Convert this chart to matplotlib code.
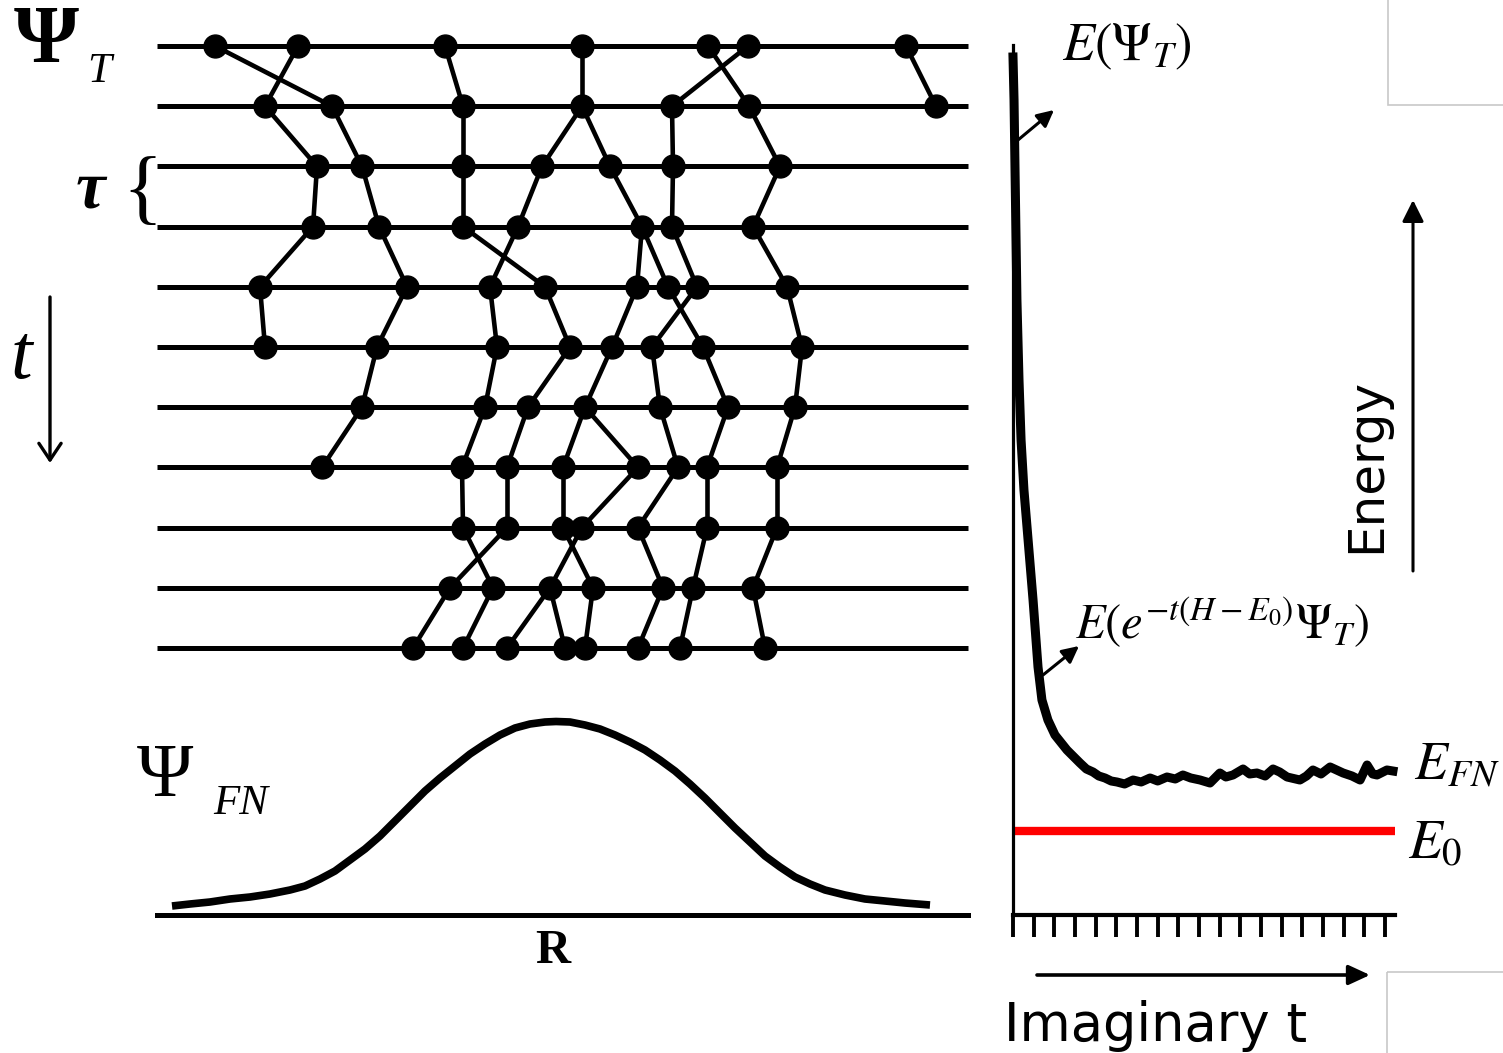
import matplotlib.pyplot as plt

plt.rcParams['mathtext.fontset'] = 'stix'

W, H = 1503, 1053

# walker positions R at each imaginary-time step (step 0 is the trial function)
walkers = [
    [215, 298, 445, 582, 708, 748, 906],
    [265, 332, 463, 582, 672, 749, 936],
    [317, 362, 463, 542, 610, 673, 780],
    [313, 379, 463, 518, 642, 672, 753],
    [260, 407, 490, 545, 637, 668, 697, 787],
    [265, 377, 497, 570, 612, 652, 703, 802],
    [362, 485, 528, 585, 660, 728, 795],
    [322, 462, 507, 563, 638, 678, 707, 777],
    [463, 507, 563, 582, 638, 707, 777],
    [450, 493, 550, 593, 663, 693, 753],
    [413, 463, 507, 565, 585, 638, 680, 765],
]
# which walker of the previous step each walker came from
parents = [
    None,
    [1, 0, 2, 3, 5, 4, 6],
    [0, 1, 2, 3, 3, 4, 5],
    [0, 1, 2, 3, 4, 5, 6],
    [0, 1, 3, 2, 4, 4, 5, 6],
    [0, 1, 2, 3, 4, 6, 5, 7],
    [1, 2, 3, 4, 5, 6, 7],
    [0, 1, 2, 3, 3, 4, 5, 6],
    [1, 2, 3, 4, 5, 6, 7],
    [1, 0, 3, 2, 4, 5, 6],
    [0, 1, 2, 2, 3, 4, 5, 6],
]

# fixed-node wavefunction sampled along R
psi_r = [172, 190, 210, 230, 250, 270, 290, 305, 320, 335, 350, 365, 380,
         395, 410, 425, 440, 455, 470, 485, 500, 515, 530, 545, 556, 570,
         585, 600, 615, 630, 645, 660, 675, 690, 705, 720, 735, 750, 765,
         780, 795, 810, 825, 845, 865, 885, 905, 930]
psi_amp = [9, 11, 13, 16, 18, 21, 25, 29, 36, 44, 55, 66, 79,
           94, 109, 124, 137, 149, 161, 171, 180, 187, 191, 193, 193.5, 193,
           190, 186, 180, 173, 165, 155, 144, 131, 117, 102, 87, 73, 59,
           48, 38, 31, 25, 20, 16, 14, 12, 10]

# energy estimate vs imaginary time
imag_t = [0.00, 0.05, 0.10, 0.19, 0.29, 0.39, 0.53, 0.73, 0.97, 1.21, 1.40,
          1.69, 2.03, 2.61, 3.24, 3.55, 3.87, 4.15, 4.45, 4.75, 5.03, 5.40,
          5.81, 6.20, 6.63, 7.00, 7.45, 7.85, 8.22, 8.60, 9.05, 9.53, 10.01,
          10.30, 10.64, 11.13, 11.45, 11.80, 12.20, 12.58, 12.90, 13.26,
          13.88, 14.20, 14.51, 14.90, 15.34, 15.97, 16.40, 16.79, 17.13,
          17.40, 17.61, 18.09, 18.38]
energy = [858, 815, 742, 615, 535, 475, 425, 375, 315, 248, 215,
          195, 180, 165, 152, 146, 143, 139, 137, 134, 133, 131,
          135, 133, 137, 134, 138, 136, 140, 137, 135, 132, 142,
          138, 140, 146, 141, 142, 139, 146, 143, 138,
          135, 139, 145, 141, 148, 142, 139, 135, 150,
          141, 140, 145, 144]
e0 = 84
t_ticks = list(range(19))

fig = plt.figure(figsize=(W / 100, H / 100), dpi=100)


def box(x0, y0, x1, y1):
    # pixel box (top-left origin) -> figure fraction rect
    return [x0 / W, 1 - y1 / H, (x1 - x0) / W, (y1 - y0) / H]


# walker diagram
ax_w = fig.add_axes(box(157, 46, 968, 648))
ax_w.set_xlim(157, 968)
ax_w.set_ylim(10, 0)
ax_w.axis('off')
ax_w.hlines(range(len(walkers)), 157, 968, color='k', lw=3.6, clip_on=False)
for s in range(1, len(walkers)):
    for j, p in enumerate(parents[s]):
        ax_w.plot([walkers[s - 1][p], walkers[s][j]], [s - 1, s], color='k',
                  lw=3.3, solid_capstyle='round', clip_on=False)
for s, row in enumerate(walkers):
    ax_w.plot(row, [s] * len(row), 'o', color='k', ms=16.5, clip_on=False, zorder=3)

# fixed-node wavefunction
ax_g = fig.add_axes(box(157, 715, 968, 915))
ax_g.set_xlim(157, 968)
ax_g.set_ylim(0, 200)
ax_g.plot(psi_r, psi_amp, color='k', lw=5.5, solid_joinstyle='round',
          solid_capstyle='butt', clip_on=False)
for side in ['top', 'right', 'left']:
    ax_g.spines[side].set_visible(False)
ax_g.spines['bottom'].set_linewidth(3.6)
ax_g.set_xticks([])
ax_g.set_yticks([])
ax_g.patch.set_visible(False)

# energy convergence
ax_e = fig.add_axes(box(1013, 45, 1395, 915))
ax_e.set_xlim(0, 18.48)
ax_e.set_ylim(0, 870)
ax_e.axhline(e0, color='#ff0000', lw=6)
ax_e.plot(imag_t, energy, color='k', lw=6.5, solid_joinstyle='round', clip_on=False, zorder=3)
for side in ['top', 'right']:
    ax_e.spines[side].set_visible(False)
ax_e.spines['left'].set_linewidth(2.3)
ax_e.spines['bottom'].set_linewidth(3)
ax_e.set_xticks(t_ticks)
ax_e.set_yticks([])
ax_e.tick_params(axis='x', direction='out', length=16, width=2.8, labelbottom=False)
ax_e.patch.set_visible(False)

# labels, arrows and frames on a full-figure overlay
ax = fig.add_axes([0, 0, 1, 1])
ax.set_xlim(0, W)
ax.set_ylim(H, 0)
ax.axis('off')
ax.patch.set_visible(False)

serif = 'Liberation Serif'
ax.text(14, 62, 'Ψ', family=serif, weight='bold', fontsize=60, va='baseline')
ax.text(87, 82, 'T', family=serif, style='italic', fontsize=31, va='baseline')
ax.text(76, 207, 'τ', family=serif, weight='bold', style='italic', fontsize=48, va='baseline')
ax.text(142, 194, '{', family=serif, fontsize=60, ha='center', va='center')
ax.text(11, 378, 't', family=serif, style='italic', fontsize=56, va='baseline')
ax.text(137, 796, 'Ψ', family=serif, fontsize=55, va='baseline')
ax.text(213, 814, 'FN', family=serif, style='italic', fontsize=31, va='baseline')
ax.text(553, 963, 'R', family=serif, weight='bold', fontsize=35, ha='center', va='baseline')

ax.text(1062, 60, r'$E(\Psi_T)$', fontsize=38, va='baseline')
ax.text(1075, 639, r'$E(e^{-t(H-E_0)}\Psi_T)$', fontsize=35, va='baseline')
ax.text(1414, 779, r'$E_{FN}$', fontsize=39, va='baseline')
ax.text(1408, 858, r'$E_0$', fontsize=40, va='baseline')

ax.text(1366, 465, 'Energy', family='DejaVu Sans', fontsize=36, rotation=90,
        ha='center', va='center')
ax.text(1004, 1041, 'Imaginary t', family='DejaVu Sans', fontsize=38, va='baseline')


def arrow(x0, y0, x1, y1, style, lw):
    ax.annotate('', xy=(x1, y1), xytext=(x0, y0),
                arrowprops=dict(arrowstyle=style, color='k', lw=lw,
                                shrinkA=0, shrinkB=0, mutation_scale=1))


arrow(50, 297, 50, 463, '->,head_length=12,head_width=8', 2.4)
arrow(1413, 571, 1413, 200, '-|>,head_length=13,head_width=6.5', 2.2)
arrow(1037, 975, 1370, 975, '-|>,head_length=13,head_width=6', 2.6)
arrow(1018, 140, 1054, 110, '-|>,head_length=10,head_width=5', 2.2)
arrow(1043, 675, 1079, 646, '-|>,head_length=10,head_width=5', 2.2)

for (x0, y0) in [(1388, -2), (1387, 972)]:
    ax.add_patch(plt.Rectangle((x0, y0), 130, 107, fill=False,
                               edgecolor='#c8c8c8', lw=1.2))

fig.savefig('out.png', dpi=100)
